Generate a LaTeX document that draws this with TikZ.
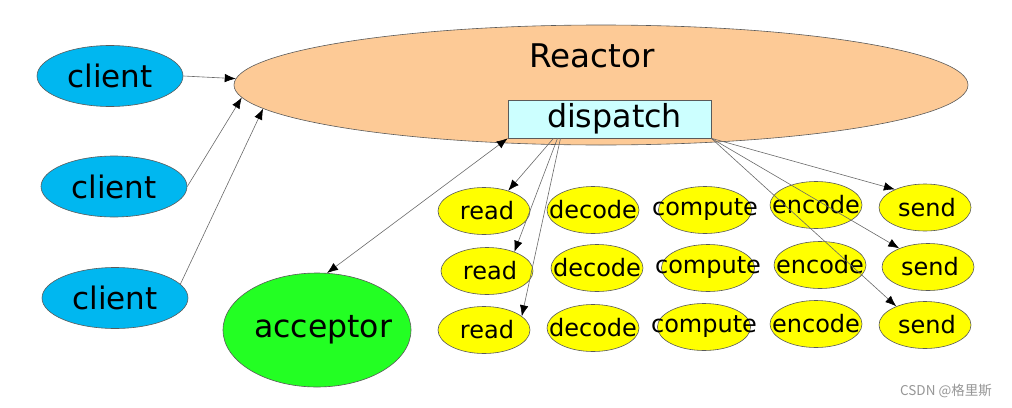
\documentclass[tikz,border=0pt]{standalone}
\usepackage{fontspec}
\setmainfont{DejaVu Sans}
\newfontfamily\cjkfont{Noto Sans CJK SC}
\usetikzlibrary{shapes.geometric,arrows.meta}

\definecolor{reactorfill}{RGB}{253,202,150}
\definecolor{dispatchfill}{RGB}{204,255,255}
\definecolor{clientblue}{RGB}{0,183,240}
\definecolor{acceptgreen}{RGB}{35,255,35}
\definecolor{jobyellow}{RGB}{255,255,0}
\definecolor{outline}{RGB}{90,90,90}
\definecolor{linegray}{RGB}{105,105,105}
\definecolor{markgray}{RGB}{150,150,150}

\tikzset{
  oval/.style={ellipse, draw=outline, line width=0.6pt, inner sep=0pt},
  clientnode/.style={oval, fill=clientblue, minimum width=146pt, minimum height=61pt, font=\fontsize{31}{36}\selectfont},
  jobnode/.style={oval, fill=jobyellow, inner xsep=-20pt, minimum width=92pt, minimum height=47pt, font=\fontsize{24}{28}\selectfont},
  conn/.style={->, draw=linegray, line width=0.6pt},
}

\begin{document}
\begin{tikzpicture}[x=1pt, y=-1pt, >={Latex[length=11pt,width=8.5pt,color=black]}]
      \useasboundingbox (0,0) rectangle (1012,407);
      \node[oval, fill=reactorfill, minimum width=734pt, minimum height=120pt] (reactor) at (601,85) {};
      \node[font=\fontsize{32.6}{38}\selectfont] (reactortext) at (592,56) {Reactor};
      \node[draw=outline, line width=0.6pt, fill=dispatchfill, minimum width=203pt, minimum height=38pt, inner sep=0pt, font=\fontsize{31.7}{37}\selectfont] (dispatch) at (609.5,119) {\hspace{10pt}dispatch};

      \node[clientnode] (client1) at (110,76) {client};
      \node[clientnode] (client2) at (114,186.5) {client};
      \node[clientnode] (client3) at (115,298) {client};
      \node[oval, fill=acceptgreen, inner xsep=-10pt, minimum width=188pt, minimum height=114pt, font=\fontsize{31.5}{37}\selectfont] (acceptor) at (317,330) {\hspace{12pt}acceptor};

      \node[jobnode] (read1) at (484,211) {\hspace{6pt}read};
      \node[jobnode] (decode1) at (593,210) {decode};
      \node[jobnode] (compute1) at (705,210) {compute};
      \node[jobnode] (encode1) at (816,205) {encode};
      \node[jobnode] (send1) at (925,207.5) {\hspace{4pt}send};
      \node[jobnode] (read2) at (487,271) {\hspace{6pt}read};
      \node[jobnode] (decode2) at (597,268) {decode};
      \node[jobnode] (compute2) at (708,268) {compute};
      \node[jobnode] (encode2) at (820,265) {encode};
      \node[jobnode] (send2) at (928,267) {\hspace{4pt}send};
      \node[jobnode] (read3) at (484,330) {\hspace{6pt}read};
      \node[jobnode] (decode3) at (593,328) {decode};
      \node[jobnode] (compute3) at (704,327) {compute};
      \node[jobnode] (encode3) at (816,324) {encode};
      \node[jobnode] (send3) at (925,325) {\hspace{4pt}send};

      \draw[conn] (client1.east) -- (reactor.179);
      \draw[conn] (client2.east) -- (reactor.182.6);
      \draw[conn] (client3.12) -- (reactor.184.3);
      \draw[conn, <->] (dispatch.south west) -- (acceptor.80);
      \draw[conn] ([xshift=-56pt]dispatch.south) -- (read1.40);
      \draw[conn] ([xshift=-52pt]dispatch.south) -- (read2.35);
      \draw[conn] ([xshift=-49pt]dispatch.south) -- (read3.20);
      \draw[conn] (dispatch.south east) -- (send1.149);
      \draw[conn] (dispatch.south east) -- (send2.147);
      \draw[conn] (dispatch.south east) -- (send3.147);

      \node[font=\cjkfont\fontsize{13.5}{16}\selectfont, text=markgray] (mark) at (946,391) {CSDN @格里斯};
   \end{tikzpicture}
\end{document}
